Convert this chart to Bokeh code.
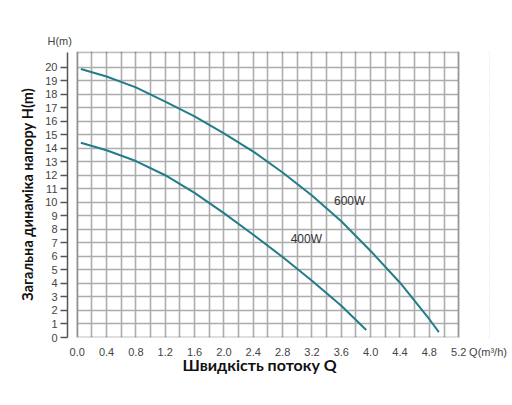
from bokeh.core.properties import value
from bokeh.embed import file_html
from bokeh.models import (BoxAnnotation, ColumnDataSource, FixedTicker,
                          PrintfTickFormatter, Range1d, Title)
from bokeh.plotting import figure
from bokeh.resources import INLINE

# Q(m3/h) -> H(m)
q_600 = [0.05, 0.4, 0.8, 1.2, 1.6, 2.0, 2.4, 2.8, 3.2, 3.6, 4.0, 4.4, 4.8, 4.93]
h_600 = [19.85, 19.3, 18.5, 17.45, 16.35, 15.1, 13.75, 12.2, 10.5, 8.6, 6.4, 4.05, 1.35, 0.4]

q_400 = [0.05, 0.4, 0.8, 1.2, 1.6, 2.0, 2.4, 2.8, 3.2, 3.6, 3.94]
h_400 = [14.4, 13.85, 13.05, 12.0, 10.7, 9.2, 7.6, 5.95, 4.2, 2.35, 0.55]

curve_names = ["600W", "400W"]
name_q = [3.5, 2.91]
name_h = [10.1, 7.27]

x_ticks = [0.0, 0.4, 0.8, 1.2, 1.6, 2.0, 2.4, 2.8, 3.2, 3.6, 4.0, 4.4, 4.8, 5.2]
x_minor = [0.2, 0.6, 1.0, 1.4, 1.8, 2.2, 2.6, 3.0, 3.4, 3.8, 4.2, 4.6, 5.0]
y_ticks = list(range(0, 21))

Q_MAX = 5.2
H_MAX = 21.1
Q_UNIT_POS = 5.6   # where the "Q(m³/h)" unit text sits on the x axis

LINE = "#237d88"
GRID = "#adadad"
TICK_FONT = "Liberation Sans"
LABEL_FONT = "Lato"

p = figure(width=510, height=400, output_backend="svg", toolbar_location=None,
           x_range=Range1d(-0.132, 5.62), y_range=Range1d(0, 21.15),
           min_border_left=67, min_border_right=21, min_border_top=51,
           min_border_bottom=63)
p.outline_line_color = None

# unit of the y axis as the plot title, top left
p.title.text = "H(m)"
p.title.align = "left"
p.title.offset = -20
p.title.standoff = 10
p.title.text_font = TICK_FONT
p.title.text_font_size = "11px"
p.title.text_font_style = "normal"
p.title.text_color = "#444444"

# x axis: tick labels, plus the unit text at the end
xa = p.xaxis[0]
xa.ticker = FixedTicker(ticks=x_ticks + [Q_UNIT_POS], minor_ticks=x_minor)
xa.formatter = PrintfTickFormatter(format="%.1f")
xa.major_label_overrides = {Q_UNIT_POS: "Q(m³/h)"}
xa.bounds = (0, Q_UNIT_POS)
xa.axis_label = None
xa.axis_label_standoff = 0
xa.axis_line_color = None
xa.major_tick_out = 0
xa.major_tick_in = 0
xa.minor_tick_out = 0
xa.minor_tick_in = 0
xa.major_label_standoff = 8
xa.major_label_text_font = TICK_FONT
xa.major_label_text_font_size = "11px"
xa.major_label_text_color = "#444444"

p.add_layout(Title(text="Швидкість потоку Q", align="left", offset=115,
                   standoff=-12, vertical_align="top", text_font=LABEL_FONT,
                   text_font_style="bold", text_font_size="16px",
                   text_color="#111111"), "below")

# y axis sits a little left of the box
ya = p.yaxis[0]
ya.ticker = FixedTicker(ticks=y_ticks)
ya.bounds = (0, H_MAX)
ya.axis_line_color = "#555555"
ya.axis_line_width = 1.5
ya.major_tick_line_color = "#555555"
ya.major_tick_line_width = 1.5
ya.major_tick_out = 7
ya.major_tick_in = 0
ya.minor_tick_out = 0
ya.minor_tick_in = 0
ya.major_label_standoff = 3
ya.major_label_text_font = TICK_FONT
ya.major_label_text_font_size = "11px"
ya.major_label_text_color = "#444444"
ya.axis_label = "Загальна динаміка напору H(m)"
ya.axis_label_text_font = LABEL_FONT
ya.axis_label_text_font_style = "bold"
ya.axis_label_text_font_size = "14.5px"
ya.axis_label_text_color = "#111111"
ya.axis_label_standoff = 6

p.xgrid.bounds = (0, Q_MAX)
p.xgrid.grid_line_color = GRID
p.xgrid.grid_line_width = 1.6
p.xgrid.minor_grid_line_color = GRID
p.xgrid.minor_grid_line_width = 1.6
p.ygrid.grid_line_color = GRID
p.ygrid.grid_line_width = 1.6

# white strips left and right of the box hide the horizontal grid there
p.add_layout(BoxAnnotation(right=0, fill_color="white", fill_alpha=1,
                           line_color=None, level="underlay"))
p.add_layout(BoxAnnotation(left=Q_MAX, fill_color="white", fill_alpha=1,
                           line_color=None, level="underlay"))
p.add_layout(BoxAnnotation(left=0, right=Q_MAX, bottom=0, top=H_MAX,
                           fill_alpha=0, line_color="#2a2a2a", line_width=2))

p.line(q_600, h_600, line_color=LINE, line_width=2, line_join="round")
p.line(q_400, h_400, line_color=LINE, line_width=2, line_join="round")

names = ColumnDataSource(dict(x=name_q, y=name_h, t=curve_names))
p.text("x", "y", text="t", source=names, text_font=value(TICK_FONT),
       text_font_size="12px", text_color="#333333", text_baseline="middle",
       text_align="left")

open("out.html", "w").write(file_html(p, INLINE))
